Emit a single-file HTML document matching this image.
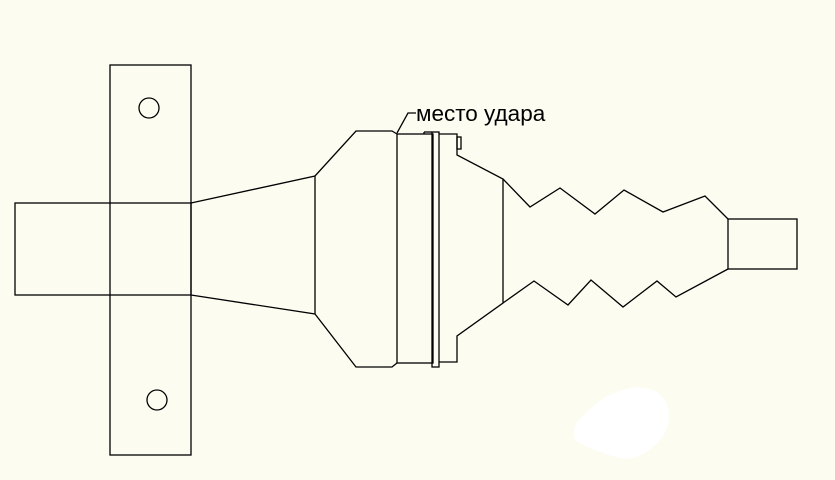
<!DOCTYPE html>
<html><head><meta charset="utf-8"><style>
html,body{margin:0;padding:0;background:#fdfcf1;}
svg{display:block}
</style></head><body>
<svg width="835" height="480" viewBox="0 0 835 480" xmlns="http://www.w3.org/2000/svg">
<rect width="835" height="480" fill="#fdfcf1"/>
<g fill="none" stroke="#000" stroke-width="1.3">
<rect x="15" y="203" width="176" height="92"/>
<rect x="110" y="65" width="81" height="390"/>
<circle cx="149" cy="108" r="10"/>
<circle cx="157" cy="400" r="10"/>
<polyline points="191,203 315,176 356,131 392,131 397,134"/>
<polyline points="191,295 315,314 356,367 392,367 397,363"/>
<line x1="315" y1="176" x2="315" y2="314"/>
<rect x="397" y="134" width="36" height="229"/>
<rect x="432" y="132" width="7" height="235"/>
<line x1="424" y1="132" x2="432" y2="132"/>
<line x1="424" y1="132" x2="424" y2="134"/>
<polyline points="439,134 457,134 457,155 503,179 503,303 457,336 457,362 439,362"/>
<rect x="457" y="137" width="4" height="12"/>
<polyline points="503,179 530,207 560,188 595,214 624,190 663,212 705,196 728,219"/>
<polyline points="503,303 534,281 568,305 591,280 623,307 657,281 676,297 728,269"/>
<rect x="728" y="219" width="69" height="50"/>
<polyline points="397,133 408,113 416,113"/>
</g>
<text x="416" y="121" font-family="Liberation Sans, sans-serif" font-size="22.5" fill="#000">место удара</text>
<path d="M585,415 Q600,395 630,388 Q655,385 665,400 Q675,420 660,440 Q640,462 620,458 Q590,450 575,440 Q570,425 585,415Z" fill="#ffffff"/>
</svg>
</body></html>
